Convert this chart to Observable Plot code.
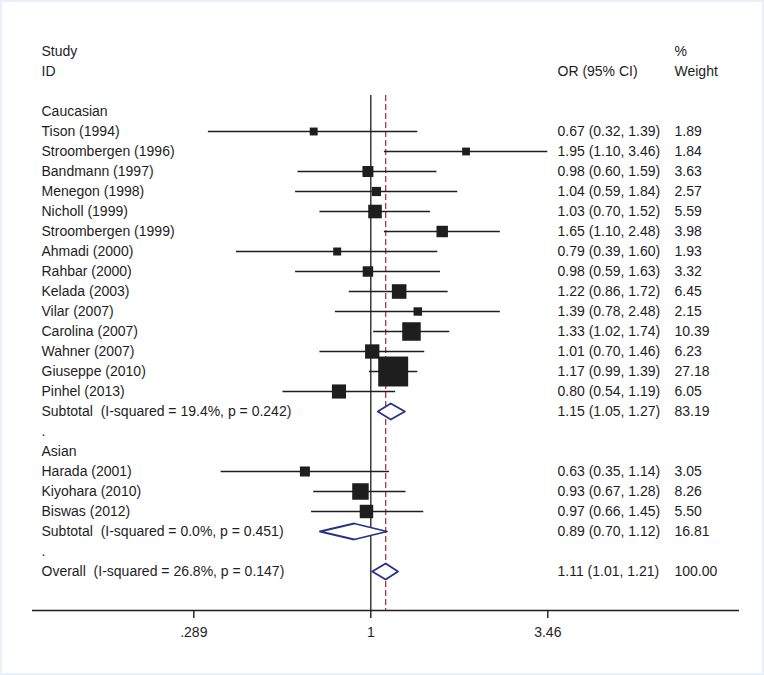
<!DOCTYPE html>
<html>
<head>
<meta charset="utf-8">
<script src="https://cdn.jsdelivr.net/npm/d3@7"></script>
<script src="https://cdn.jsdelivr.net/npm/@observablehq/plot@0.6"></script>
<style>
  html, body { margin: 0; padding: 0; background: white; }
  #chart svg { display: block; outline: 2px solid #e8f1f7; outline-offset: -2px; }
</style>
</head>
<body>
<div id="chart"></div>
<script>
// ---- data ----
const cauStudies = ["Tison (1994)", "Stroombergen (1996)", "Bandmann (1997)", "Menegon (1998)", "Nicholl (1999)",
  "Stroombergen (1999)", "Ahmadi (2000)", "Rahbar (2000)", "Kelada (2003)", "Vilar (2007)",
  "Carolina (2007)", "Wahner (2007)", "Giuseppe (2010)", "Pinhel (2013)"];
const cauOR = [0.67, 1.95, 0.98, 1.04, 1.03, 1.65, 0.79, 0.98, 1.22, 1.39, 1.33, 1.01, 1.17, 0.80];
const cauLo = [0.32, 1.10, 0.60, 0.59, 0.70, 1.10, 0.39, 0.59, 0.86, 0.78, 1.02, 0.70, 0.99, 0.54];
const cauHi = [1.39, 3.46, 1.59, 1.84, 1.52, 2.48, 1.60, 1.63, 1.72, 2.48, 1.74, 1.46, 1.39, 1.19];
const cauW  = [1.89, 1.84, 3.63, 2.57, 5.59, 3.98, 1.93, 3.32, 6.45, 2.15, 10.39, 6.23, 27.18, 6.05];
const cauSub = {label: "Subtotal\u00a0 (I-squared = 19.4%, p = 0.242)", or: 1.15, lo: 1.05, hi: 1.27, w: 83.19};

const asiStudies = ["Harada (2001)", "Kiyohara (2010)", "Biswas (2012)"];
const asiOR = [0.63, 0.93, 0.97];
const asiLo = [0.35, 0.67, 0.66];
const asiHi = [1.14, 1.28, 1.45];
const asiW  = [3.05, 8.26, 5.50];
const asiSub = {label: "Subtotal\u00a0 (I-squared = 0.0%, p = 0.451)", or: 0.89, lo: 0.70, hi: 1.12, w: 16.81};

const overall = {label: "Overall\u00a0 (I-squared = 26.8%, p = 0.147)", or: 1.11, lo: 1.01, hi: 1.21, w: 100.00};

const groupNames = ["Caucasian", "Asian"];
const tickValues = [0.289, 1, 3.46];
const tickLabels = [".289", "1", "3.46"];

// ---- build rows ----
const rows = [];
function addGroup(name, studies, ors, los, his, ws, sub) {
  rows.push({type: "header", label: name});
  studies.forEach((s, i) => rows.push({type: "study", label: s, or: ors[i], lo: los[i], hi: his[i], w: ws[i]}));
  rows.push({type: "diamond", ...sub});
  rows.push({type: "blank", label: "."});
}
addGroup(groupNames[0], cauStudies, cauOR, cauLo, cauHi, cauW, cauSub);
addGroup(groupNames[1], asiStudies, asiOR, asiLo, asiHi, asiW, asiSub);
rows.push({type: "diamond", ...overall});
rows.forEach((r, i) => r.row = i);

const studyRows = rows.filter(r => r.type === "study");
const diamondRows = rows.filter(r => r.type === "diamond");
const valueRows = rows.filter(r => r.type === "study" || r.type === "diamond");
const fmtCI = r => `${r.or.toFixed(2)} (${r.lo.toFixed(2)}, ${r.hi.toFixed(2)})`;

const half = 0.4;
const diamondPts = diamondRows.flatMap(r => [
  {id: r.row, x: r.lo, y: r.row},
  {id: r.row, x: r.or, y: r.row - half},
  {id: r.row, x: r.hi, y: r.row},
  {id: r.row, x: r.or, y: r.row + half},
  {id: r.row, x: r.lo, y: r.row}
]);

const lastRow = rows.length - 1;
const axisRow = lastRow + 1.95;
const lineTop = -0.8;
const headers = [
  {row: -3, left: "Study", right: "%", mid: ""},
  {row: -2, left: "ID", right: "Weight", mid: "OR (95% CI)"}
];

const ink = "#1e1e1e";
const navy = "#28318a";
const dashRed = "#a8383e";

const chart = Plot.plot({
  width: 764,
  height: 675,
  marginLeft: 32,
  marginRight: 25,
  marginTop: 20,
  marginBottom: 65,
  style: {fontFamily: "'Liberation Sans', Arial, Helvetica, sans-serif", fontSize: "14px", background: "white", color: ink},
  x: {type: "log", domain: [0.289, 3.46], range: [193.3, 547.3]},
  y: {type: "linear", domain: [-3, lastRow], range: [51, 51 + (lastRow + 3) * 20], axis: null},
  r: {type: "sqrt", domain: [0, 27.18], range: [0, 16.9]},
  marks: [
    // axis line
    Plot.ruleY([axisRow], {stroke: ink, strokeWidth: 1.3}),
    Plot.axisX({ticks: tickValues, tickFormat: d => tickLabels[tickValues.indexOf(d)], tickSize: 8, tickPadding: 9,
      label: null, fontSize: 14, stroke: ink, strokeWidth: 1.4, fill: ink}),
    // null line
    Plot.ruleX([1], {y1: lineTop, y2: axisRow, stroke: ink, strokeWidth: 1.3}),
    // overall estimate line
    Plot.ruleX([overall.or], {y1: lineTop, y2: axisRow, stroke: dashRed, strokeWidth: 1.3, strokeDasharray: "6,3"}),
    // CIs
    Plot.ruleY(studyRows, {y: "row", x1: "lo", x2: "hi", stroke: ink, strokeWidth: 1.6}),
    // boxes
    Plot.dot(studyRows, {x: "or", y: "row", r: "w", symbol: "square", fill: ink, stroke: null}),
    // diamonds
    Plot.line(diamondPts, {x: "x", y: "y", z: "id", stroke: navy, fill: "white", strokeWidth: 1.8}),
    // left labels
    Plot.text(rows, {y: "row", text: "label", frameAnchor: "left", dx: 9, textAnchor: "start", fill: ink}),
    Plot.text(valueRows, {y: "row", text: fmtCI, frameAnchor: "left", dx: 525, textAnchor: "start", fill: ink}),
    Plot.text(valueRows, {y: "row", text: r => r.w.toFixed(2), frameAnchor: "left", dx: 642, textAnchor: "start", fill: ink}),
    // headers
    Plot.text(headers, {y: "row", text: "left", frameAnchor: "left", dx: 9, textAnchor: "start", fill: ink}),
    Plot.text(headers, {y: "row", text: "mid", frameAnchor: "left", dx: 525, textAnchor: "start", fill: ink}),
    Plot.text(headers, {y: "row", text: "right", frameAnchor: "left", dx: 642, textAnchor: "start", fill: ink})
  ]
});
document.getElementById("chart").appendChild(chart);
</script>
</body>
</html>
